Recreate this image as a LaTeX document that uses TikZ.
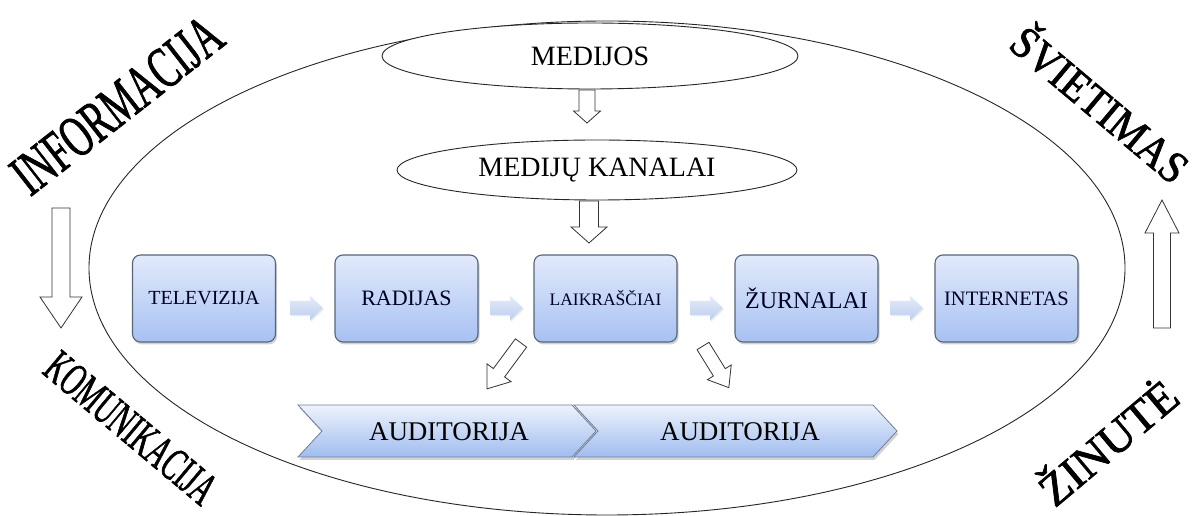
\documentclass[tikz,border=0pt]{standalone}
\usepackage{fontspec}
\setmainfont{Liberation Serif}
\newfontfamily\heavyserif[FakeBold=1.6]{Liberation Serif}
\usetikzlibrary{shapes.geometric,shadows}
\definecolor{boxtop}{HTML}{E2EAFB}
\definecolor{boxbot}{HTML}{A7C1F2}
\definecolor{boxline}{HTML}{56657A}
\definecolor{flowtop}{HTML}{E6ECF9}
\definecolor{flowbot}{HTML}{BCCDEE}
\definecolor{chtop}{HTML}{EEF3FC}
\definecolor{chbot}{HTML}{A0BCEF}
\definecolor{chline}{HTML}{6E7F99}
\newcommand\blockarr[7][hollow]{%
  \draw[#1,shift={(#2)},rotate=#3] (0,-#5) -- ({#4-#7},-#5) -- ({#4-#7},-#6) -- (#4,0)
    -- ({#4-#7},#6) -- ({#4-#7},#5) -- (0,#5) -- cycle;}
\tikzset{
  proc/.style={rectangle, rounded corners=8pt, draw=boxline, line width=1.1pt,
    top color=boxtop, bottom color=boxbot, minimum width=143pt, minimum height=87pt,
    inner sep=0pt, text=black!85!blue,
    drop shadow={opacity=0.35, shadow xshift=1.5pt, shadow yshift=-2.5pt}},
  hollow/.style={draw=black!80, fill=white, line width=0.8pt, line join=miter},
  flow/.style={draw=none, top color=flowtop, bottom color=flowbot,
    drop shadow={opacity=0.15, shadow xshift=1pt, shadow yshift=-1.5pt}},
  chev/.style={draw=chline, line width=0.8pt, top color=chtop, bottom color=chbot,
    drop shadow={opacity=0.35, shadow xshift=1.5pt, shadow yshift=-3pt}},
  oval/.style={ellipse, draw=black!85, line width=0.9pt, fill=white, inner sep=0pt},
  lbl/.style={inner sep=0pt, font=\fontsize{28}{32}\selectfont},
  word/.style={inner sep=0pt}
}
\begin{document}
\begin{tikzpicture}[x=1pt,y=1pt]
\useasboundingbox (0,0) rectangle (1196,516);
\fill[white] (0,0) rectangle (1196,516);
% outer ellipse
\node[ellipse, draw=black!85, line width=0.9pt, minimum width=1036pt, minimum height=494pt, inner sep=0pt] (outer) at (607,248) {};
% top ellipses
\node[oval, minimum width=416pt, minimum height=66pt] (med) at (590,460) {};
\node[lbl] (medt) at (590,460) {MEDIJOS};
\node[oval, minimum width=400pt, minimum height=60pt] (kan) at (597,346) {};
\node[lbl] (kant) at (597,346) {MEDIJŲ KANALAI};
% hollow block arrows
\coordinate (a1) at (587,426);
\coordinate (a2) at (589,315);
\blockarr{a1}{-90}{33}{8}{13.5}{12}
\blockarr{a2}{-90}{42}{9.5}{18}{16}
% process boxes
\node[proc, font=\fontsize{20}{24}\selectfont] (tv) at (204,217.5) {TELEVIZIJA};
\node[proc, font=\fontsize{22}{26}\selectfont] (rad) at (406.5,217.5) {RADIJAS};
\node[proc, font=\fontsize{17.5}{21}\selectfont] (lai) at (605.5,217.5) {LAIKRAŠČIAI};
\node[proc, font=\fontsize{24}{28}\selectfont] (zur) at (806.5,217.5) {ŽURNALAI};
\node[proc, font=\fontsize{20.5}{24}\selectfont] (int) at (1006.5,217.5) {INTERNETAS};
% flow arrows
\coordinate (f1) at (290,208);
\coordinate (f2) at (490,208);
\coordinate (f3) at (690,208);
\coordinate (f4) at (890,208);
\blockarr[flow]{f1}{0}{33}{7}{12.5}{13}
\blockarr[flow]{f2}{0}{33}{7}{12.5}{13}
\blockarr[flow]{f3}{0}{33}{7}{12.5}{13}
\blockarr[flow]{f4}{0}{33}{7}{12.5}{13}
% diagonal arrows
\coordinate (d1) at (521,173);
\coordinate (d2) at (703,170);
\blockarr{d1}{233.5}{57}{7}{15}{20}
\blockarr{d2}{301.8}{49}{7}{14}{18}
% chevrons
\path[chev] (298,111) -- (572,111) -- (596,85) -- (572,59) -- (298,59) -- (322,85) -- cycle;
\path[chev] (574,111) -- (873,111) -- (897,85) -- (873,59) -- (574,59) -- (598,85) -- cycle;
\node[lbl, font=\fontsize{27}{30}\selectfont] (au1) at (449,84) {AUDITORIJA};
\node[lbl, font=\fontsize{27}{30}\selectfont] (au2) at (740,84) {AUDITORIJA};
% side arrows
\coordinate (s1) at (61,308);
\coordinate (s2) at (1162,188);
\blockarr{s1}{-90}{120}{9}{21}{31}
\blockarr{s2}{90}{128}{8.5}{17}{33}
% rotated words
\node[word, rotate=38, font=\heavyserif\fontsize{59}{62}\selectfont] (inf) at (117,411) {\scalebox{0.63}[1]{INFORMACIJA}};
\node[word, rotate=-40, font=\heavyserif\fontsize{47}{50}\selectfont] (kom) at (131,88) {\scalebox{0.58}[1]{KOMUNIKACIJA}};
\node[word, rotate=-40, font=\heavyserif\fontsize{45}{48}\selectfont] (svi) at (1102,414) {\scalebox{0.9}[1]{ŠVIETIMAS}};
\node[word, rotate=40, font=\heavyserif\fontsize{46}{49}\selectfont] (zin) at (1106,76) {ŽINUTĖ};
\end{tikzpicture}
\end{document}
